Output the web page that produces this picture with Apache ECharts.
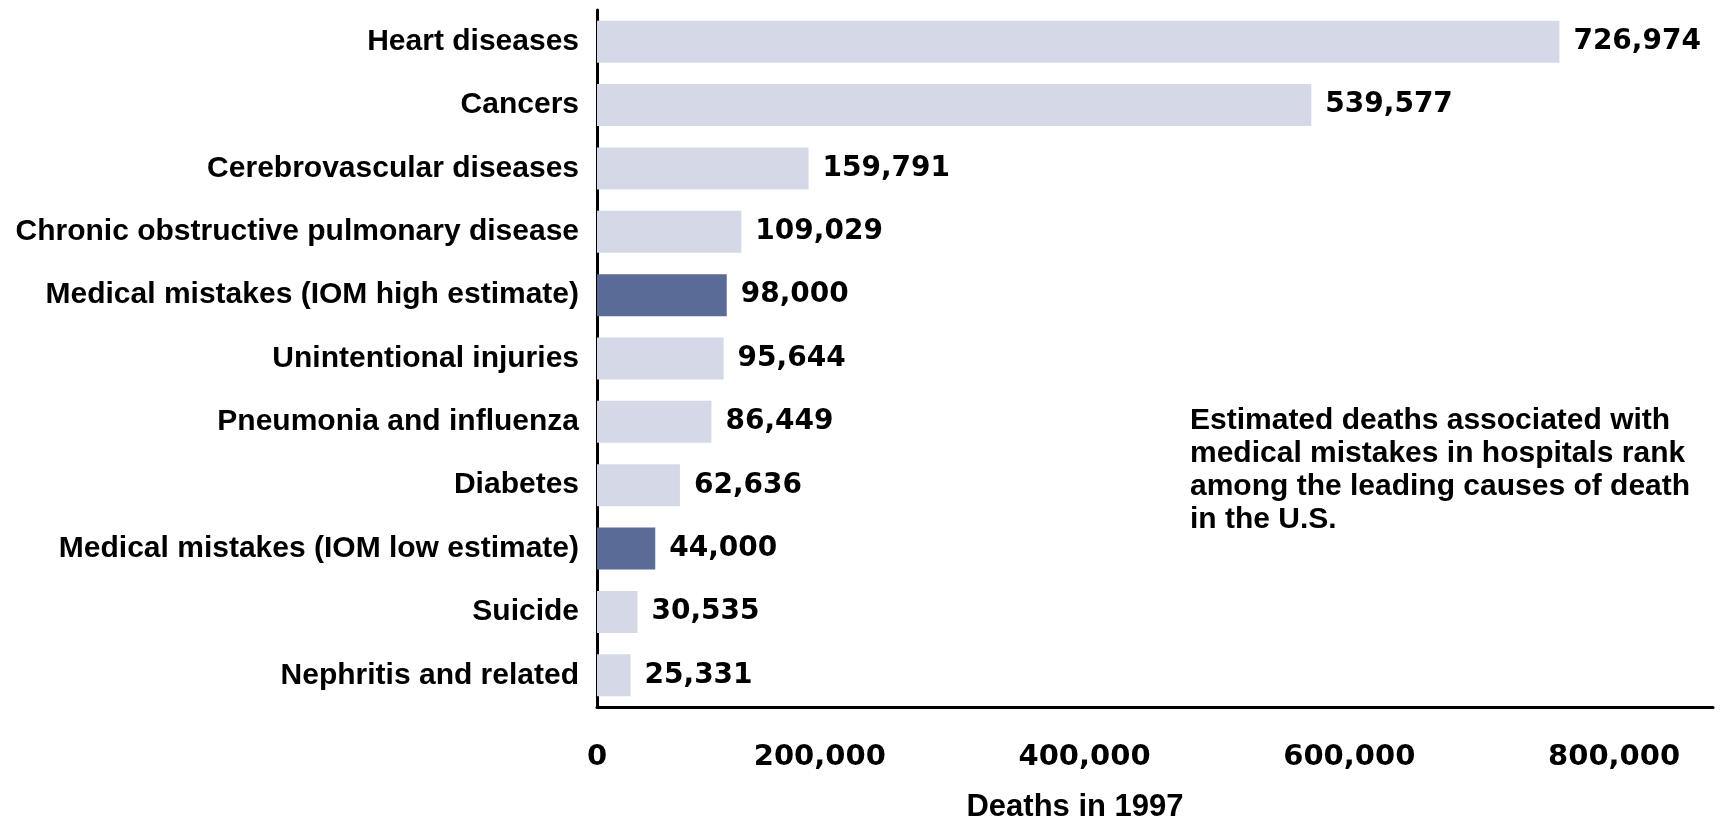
<!DOCTYPE html>
<html>
<head>
<meta charset="utf-8">
<title>Leading causes of death, 1997</title>
<script src="https://cdn.jsdelivr.net/npm/echarts@6/dist/echarts.min.js"></script>
<style>
  html, body { margin: 0; padding: 0; background: #fff; }
  .main { width: 1720px; height: 819px; }
</style>
</head>
<body>
<div class="main"></div>
<script>
  // causes, top to bottom
  const causes = [
    'Heart diseases',
    'Cancers',
    'Cerebrovascular diseases',
    'Chronic obstructive pulmonary disease',
    'Medical mistakes (IOM high estimate)',
    'Unintentional injuries',
    'Pneumonia and influenza',
    'Diabetes',
    'Medical mistakes (IOM low estimate)',
    'Suicide',
    'Nephritis and related'
  ];
  const deaths = [726974, 539577, 159791, 109029, 98000, 95644, 86449, 62636, 44000, 30535, 25331];
  const isMistake = [false, false, false, false, true, false, false, false, true, false, false];
  const xTicks = [0, 200000, 400000, 600000, 800000];

  const noteText = 'Estimated deaths associated with\nmedical mistakes in hospitals rank\namong the leading causes of death\nin the U.S.';

  const LIGHT = '#d4d8e7',
        DARK = '#5b6b97';
  const LABEL_FONT = '"Liberation Sans", Arial, sans-serif',
        NUM_FONT = '"DejaVu Sans", sans-serif';

  function fmt(v) {
    return v.toLocaleString('en-US');
  }

  /* global echarts: true */
  let myChart = echarts.init(document.querySelector('.main'));

  let option = {
    animation: false,
    title: {
      text: noteText,
      left: 1190,
      top: 404,
      padding: 0,
      textStyle: {
        fontFamily: LABEL_FONT,
        fontWeight: 'bold',
        fontSize: 30,
        lineHeight: 33,
        color: '#000'
      }
    },
    grid: {
      left: 597,
      top: 10,
      width: 1116,
      height: 697,
      containLabel: false,
      outerBoundsMode: 'none'
    },
    xAxis: {
      type: 'value',
      min: 0,
      max: 843000,
      interval: 200000,
      name: 'Deaths in 1997',
      nameLocation: 'middle',
      nameGap: 85,
      nameTextStyle: {
        fontFamily: LABEL_FONT,
        fontWeight: 'bold',
        fontSize: 31,
        color: '#000',
        padding: [0, 160, 0, 0]
      },
      axisLine: { show: true, lineStyle: { color: '#000', width: 3 } },
      axisTick: { show: false },
      splitLine: { show: false },
      axisLabel: {
        margin: 36,
        customValues: xTicks,
        formatter: v => v === 0 ? '{z|0}' : '{n|' + fmt(v) + '}',
        rich: {
          z: { fontFamily: NUM_FONT, fontWeight: 'bold', fontSize: 29, color: '#000' },
          n: { fontFamily: NUM_FONT, fontWeight: 'bold', fontSize: 29, color: '#000', padding: [0, 84, 0, 0] }
        }
      }
    },
    yAxis: {
      type: 'category',
      data: causes,
      inverse: true,
      axisLine: { show: true, lineStyle: { color: '#000', width: 3 } },
      axisTick: { show: false },
      axisLabel: {
        margin: 18,
        fontFamily: LABEL_FONT,
        fontWeight: 'bold',
        fontSize: 30,
        color: '#000'
      }
    },
    series: [{
      type: 'bar',
      barWidth: 42,
      data: deaths.map((v, i) => ({
        value: v,
        itemStyle: { color: isMistake[i] ? DARK : LIGHT }
      })),
      label: {
        show: true,
        position: 'right',
        distance: 14,
        fontFamily: NUM_FONT,
        fontWeight: 'bold',
        fontSize: 28,
        color: '#000',
        formatter: p => fmt(p.value)
      }
    }]
  };

  myChart.setOption(option);
</script>
</body>
</html>
